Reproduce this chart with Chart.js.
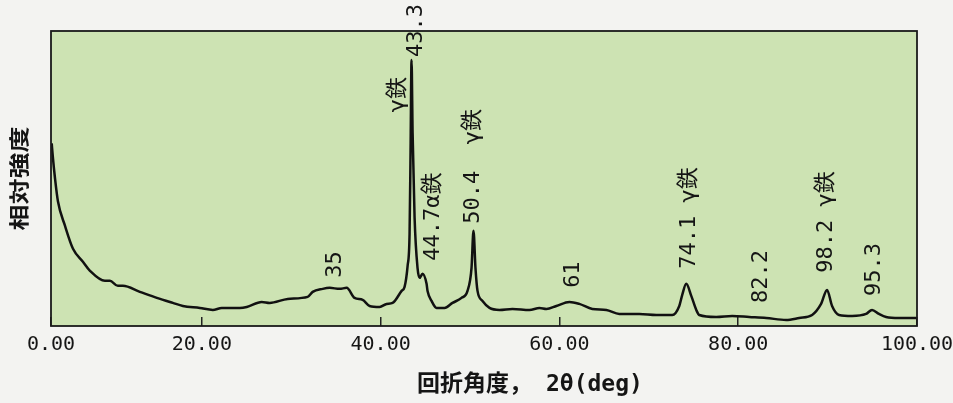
<!DOCTYPE html>
<html>
<head>
<meta charset="utf-8">
<script src="https://cdn.jsdelivr.net/npm/chart.js@4/dist/chart.umd.min.js"></script>
<style>
  html, body { margin: 0; padding: 0; background: #f3f3f1; }
  canvas { display: block; }
</style>
</head>
<body>
<canvas id="xrd" width="953" height="403"></canvas>
<script>
// 回折角 2θ (deg), as placed along the printed axis
const twoTheta = [
  3.21, 3.32, 3.58, 3.91, 4.69, 5.59, 6.70, 7.49, 9.16, 9.72,
  10.61, 11.17, 13.07, 14.97, 16.76, 17.88, 19.78, 21.23, 22.23, 24.25,
  25.03, 26.70, 27.60, 29.61, 31.84, 32.40, 33.52, 34.30, 35.42, 36.20,
  37.09, 37.99, 38.77, 39.89, 40.67, 41.34, 42.35, 42.68, 43.02, 43.24,
  43.35, 43.46, 43.58, 43.80, 44.13, 44.36, 44.69, 45.14, 45.25, 45.70,
  46.26, 47.15, 48.04, 49.05, 49.72, 50.17, 50.39, 50.61, 50.84, 51.40,
  52.18, 53.30, 54.75, 56.65, 57.77, 58.55, 59.66, 61.12, 62.23, 63.69,
  65.25, 66.70, 68.94, 70.84, 72.63, 73.41, 73.74, 74.19, 74.75, 75.31,
  75.64, 77.54, 79.33, 81.23, 83.13, 85.36, 86.82, 88.27, 89.27, 89.94,
  90.50, 91.28, 92.74, 94.30, 94.97, 95.75, 96.54, 97.99, 99.89
];
// 相対強度 (arbitrary units)
const intensity = [
  182, 170, 147, 124, 100, 77, 64, 55, 45, 45,
  40, 40, 34, 28, 23, 20, 18, 16, 18, 18,
  19, 24, 23, 27, 29, 34, 37, 38, 37, 38,
  28, 26, 20, 19, 22, 23, 35, 39, 60, 92,
  175, 265, 192, 108, 58, 48, 52, 42, 35, 25,
  18, 18, 23, 28, 35, 58, 95, 58, 35, 25,
  18, 16, 17, 16, 18, 17, 20, 24, 22, 17,
  16, 12, 12, 11, 11, 20, 31, 42, 30, 16,
  11, 9, 10, 9, 8, 6, 8, 11, 22, 36,
  20, 11, 10, 12, 16, 12, 9, 8, 8
];

const tickValues = [3.13, 20, 40, 60, 80, 100];
const tickLabels = ["0.00", "20.00", "40.00", "60.00", "80.00", "100.00"];

// ピーク注記
const peakText = ["43.3", "γ鉄", "44.7α鉄", "50.4  γ鉄", "35", "61", "74.1 γ鉄", "82.2", "98.2 γ鉄", "95.3"];
const peakX = [44.02, 42.01, 45.92, 50.39, 34.97, 61.56, 74.53, 82.57, 89.83, 95.20];
const peakY = [268, 213, 65, 102, 48, 38, 57, 23, 53, 30];

const yTitle = "相対強度";
const xTitle = "回折角度， 2θ(deg)";

const paper = {
  id: "paper",
  beforeDraw(chart){
    const {ctx, chartArea: a} = chart;
    ctx.save();
    ctx.fillStyle = "#cde3b3";
    ctx.fillRect(a.left, a.top, a.right - a.left, a.bottom - a.top);
    ctx.restore();
  },
  afterDraw(chart){
    const {ctx, chartArea: a} = chart;
    const xs = chart.scales.x, ys = chart.scales.y;
    ctx.save();
    // frame
    ctx.strokeStyle = "#1a1a1a";
    ctx.lineWidth = 1.8;
    ctx.strokeRect(a.left, a.top, a.right - a.left, a.bottom - a.top);

    // peak labels, rotated
    ctx.fillStyle = "#151515";
    ctx.font = "22px 'DejaVu Sans Mono', 'Noto Sans CJK JP'";
    ctx.textAlign = "left";
    ctx.textBaseline = "middle";
    peakText.forEach((t, i)=>{
      ctx.save();
      ctx.translate(xs.getPixelForValue(peakX[i]), ys.getPixelForValue(peakY[i]));
      ctx.rotate(-Math.PI / 2);
      ctx.fillText(t, 0, 0);
      ctx.restore();
    });

    // y title (condensed)
    ctx.save();
    ctx.translate(19, (a.top + a.bottom) / 2);
    ctx.rotate(-Math.PI / 2);
    ctx.scale(1, 0.78);
    ctx.font = "bold 26px 'Noto Sans CJK JP'";
    ctx.textAlign = "center";
    ctx.fillText(yTitle, 0, 0);
    ctx.restore();

    // x title
    ctx.font = "bold 23px 'DejaVu Sans Mono', 'Noto Sans CJK JP'";
    ctx.textAlign = "center";
    ctx.fillText(xTitle, 530, 385);
    ctx.restore();
  }
};

new Chart(document.getElementById("xrd"), {
  type: "line",
  data: {
    datasets: [{
      data: twoTheta.map((x, i)=>({ x, y: intensity[i] })),
      borderColor: "#111",
      borderWidth: 2.5,
      pointRadius: 0,
      cubicInterpolationMode: "monotone",
      fill: false
    }]
  },
  options: {
    responsive: false,
    animation: false,
    events: [],
    layout: { padding: { left: 51, right: 0, top: 31, bottom: 30 } },
    plugins: { legend: { display: false }, tooltip: { enabled: false } },
    scales: {
      x: {
        type: "linear",
        min: tickValues[0],
        max: 100,
        afterBuildTicks: s => { s.ticks = tickValues.map(v => ({ value: v })); },
        afterFit: s => { s.paddingLeft = 0; s.paddingRight = 36; },
        ticks: {
          callback: (v, i) => tickLabels[i],
          font: { family: "'DejaVu Sans Mono'", size: 20 },
          color: "#151515",
          padding: 16,
          maxRotation: 0,
          autoSkip: false
        },
        grid: { drawOnChartArea: false, drawTicks: true, tickLength: -9, color: "#222", lineWidth: 1.5 },
        border: { display: false }
      },
      y: { display: false, min: 0, max: 294 }
    }
  },
  plugins: [paper]
});
</script>
</body>
</html>
